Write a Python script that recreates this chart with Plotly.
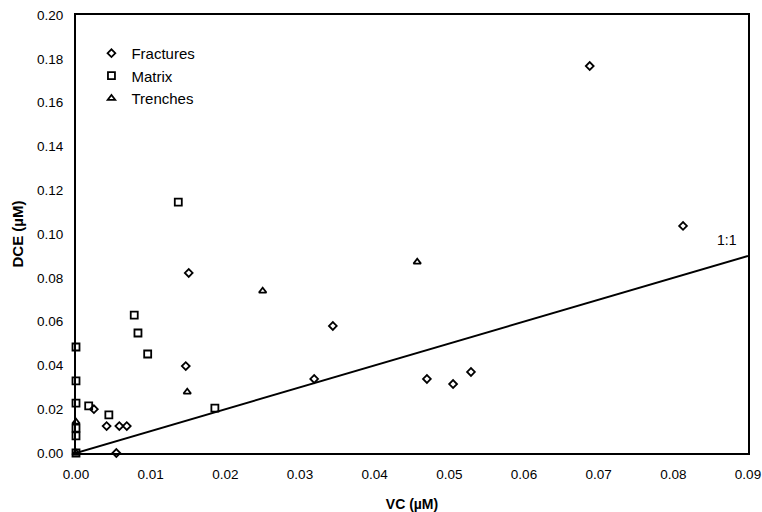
import plotly.graph_objects as go

# Data
frac_x = [0.0688, 0.0813, 0.0151, 0.0147, 0.0344, 0.0319, 0.0470, 0.0505, 0.0529,
          0.0024, 0.0041, 0.0058, 0.0068, 0.0054]
frac_y = [0.1767, 0.1037, 0.0822, 0.0397, 0.0580, 0.0338, 0.0338, 0.0315, 0.0370,
          0.0200, 0.0123, 0.0123, 0.0123, 0.0000]

matrix_x = [0.0137, 0.0078, 0.0083, 0.0096, 0.0017, 0.0044, 0.0186,
            0.0, 0.0, 0.0, 0.0, 0.0, 0.0]
matrix_y = [0.1146, 0.0630, 0.0548, 0.0452, 0.0215, 0.0174, 0.0205,
            0.0484, 0.0329, 0.0228, 0.0114, 0.0078, 0.0]

trench_x = [0.0149, 0.0250, 0.0457, 0.0, 0.0]
trench_y = [0.0279, 0.0740, 0.0872, 0.0142, 0.0]

line_x = [0.0, 0.09]
line_y = [0.0, 0.09]

x_ticks = [0.00, 0.01, 0.02, 0.03, 0.04, 0.05, 0.06, 0.07, 0.08, 0.09]
y_ticks = [0.00, 0.02, 0.04, 0.06, 0.08, 0.10, 0.12, 0.14, 0.16, 0.18, 0.20]

FONT = "Liberation Sans, Arial, sans-serif"

fig = go.Figure()
fig.add_trace(go.Scatter(x=line_x, y=line_y, mode="lines",
                         line=dict(color="black", width=2),
                         showlegend=False, hoverinfo="skip", cliponaxis=False))
fig.add_trace(go.Scatter(x=frac_x, y=frac_y, mode="markers", name="Fractures",
                         marker=dict(symbol="diamond-open", size=6, color="black",
                                     line=dict(width=1.8, color="black")),
                         cliponaxis=False))
fig.add_trace(go.Scatter(x=matrix_x, y=matrix_y, mode="markers", name="Matrix",
                         marker=dict(symbol="square-open", size=7, color="black",
                                     line=dict(width=1.8, color="black")),
                         cliponaxis=False))
fig.add_trace(go.Scatter(x=trench_x, y=trench_y, mode="markers", name="Trenches",
                         marker=dict(symbol="triangle-up-open", size=6.5, color="black",
                                     line=dict(width=1.8, color="black")),
                         cliponaxis=False))

fig.add_annotation(x=0.0872, y=0.0973, text="1:1", showarrow=False,
                   font=dict(family=FONT, size=14, color="black"))

fig.update_layout(
    width=762, height=512,
    margin=dict(l=76, r=14, t=15, b=59),
    paper_bgcolor="white", plot_bgcolor="white",
    font=dict(family=FONT, color="black"),
    legend=dict(x=0.023, y=0.950, xanchor="left", yanchor="top",
                bgcolor="rgba(0,0,0,0)", font=dict(family=FONT, size=15),
                itemwidth=30),
)
fig.update_xaxes(range=[0, 0.09], tickvals=x_ticks, tickformat=".2f",
                 showgrid=False, zeroline=False, showline=True, linecolor="black",
                 linewidth=2, mirror=True, ticks="", automargin=False,
                 ticklabelstandoff=8,
                 tickfont=dict(family=FONT, size=13.5),
                 title=dict(text="<b>VC (µM)</b>", font=dict(family=FONT, size=14),
                            standoff=19))
fig.update_yaxes(range=[0, 0.20], tickvals=y_ticks, tickformat=".2f",
                 showgrid=False, zeroline=False, showline=True, linecolor="black",
                 linewidth=2, mirror=True, ticks="", automargin=False,
                 ticklabelstandoff=8,
                 tickfont=dict(family=FONT, size=13.5),
                 title=dict(text="<b>DCE (µM)</b>", font=dict(family=FONT, size=15),
                            standoff=10))

fig.write_html("out.html")
